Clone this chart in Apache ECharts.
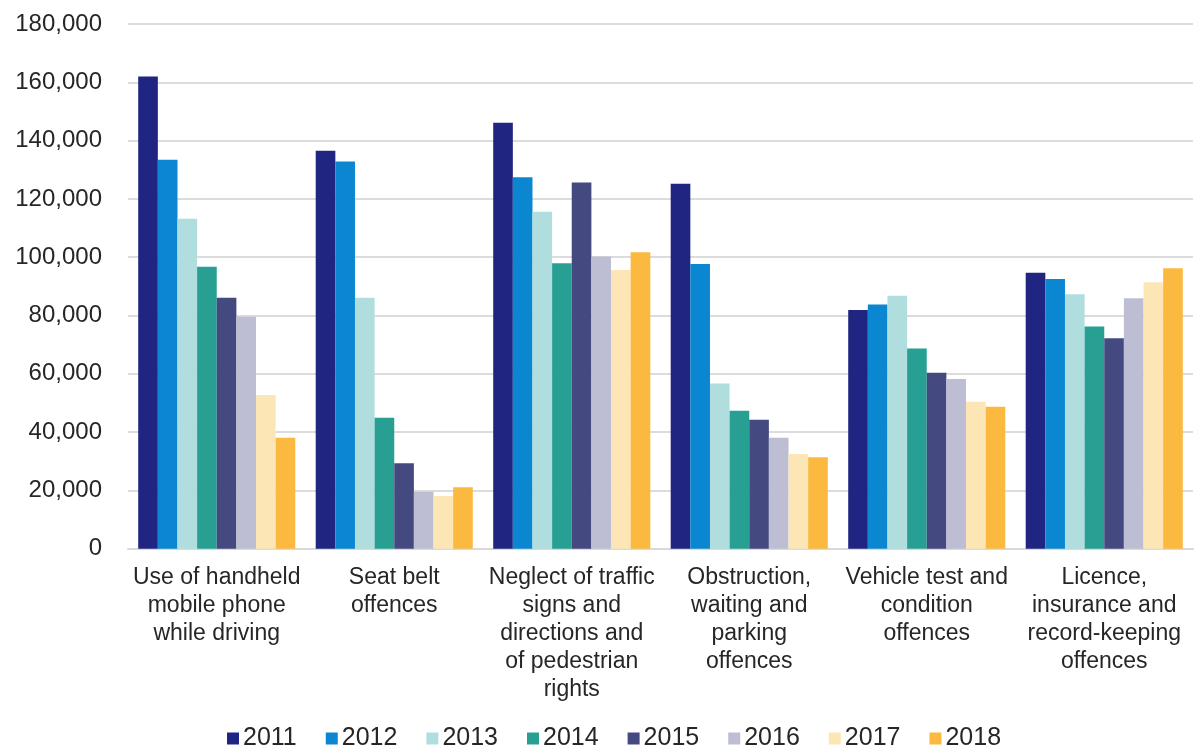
<!DOCTYPE html>
<html>
<head>
<meta charset="utf-8">
<script src="https://cdn.jsdelivr.net/npm/echarts@6/dist/echarts.min.js"></script>
<style>
html,body{margin:0;padding:0;background:#fff;}
#chart{width:1194px;height:752px;}
</style>
</head>
<body>
<div id="chart"></div>
<script>
const categories = [
  "Use of handheld\nmobile phone\nwhile driving",
  "Seat belt\noffences",
  "Neglect of traffic\nsigns and\ndirections and\nof pedestrian\nrights",
  "Obstruction,\nwaiting and\nparking\noffences",
  "Vehicle test and\ncondition\noffences",
  "Licence,\ninsurance and\nrecord-keeping\noffences"
];
const years = ["2011","2012","2013","2014","2015","2016","2017","2018"];
const v2011 = [162000, 136500, 146100, 125200, 81900, 94700];
const v2012 = [133400, 132800, 127400, 97700, 83800, 92500];
const v2013 = [113200, 86100, 115600, 56700, 86800, 87300];
const v2014 = [96700, 44900, 97900, 47300, 68700, 76200];
const v2015 = [86100, 29300, 125600, 44200, 60400, 72200];
const v2016 = [79600, 19500, 100200, 38100, 58200, 85900];
const v2017 = [52700, 18100, 95600, 32500, 50400, 91400];
const v2018 = [38100, 21100, 101700, 31400, 48700, 96200];
const seriesValues = [v2011, v2012, v2013, v2014, v2015, v2016, v2017, v2018];
const colors = ["#1f2580","#0a87d0","#b0dedf","#27a093","#444a80","#bdbed3","#fce6b5","#fbba3f"];

const font = "'Liberation Sans', Arial, sans-serif";
const chart = echarts.init(document.getElementById('chart'));
chart.setOption({
  animation: false,
  backgroundColor: '#ffffff',
  color: colors,
  textStyle: { fontFamily: font },
  grid: { left: 128, right: 1, top: 24, bottom: 203.3, containLabel: false },
  legend: {
    data: years,
    left: 222,
    top: 721,
    itemWidth: 12,
    itemHeight: 12,
    itemGap: 29,
    icon: 'rect',
    textStyle: { fontSize: 25, color: '#262626', fontFamily: font, padding: [0,0,0,-1] }
  },
  xAxis: {
    type: 'category',
    data: categories,
    axisLine: { show: true, lineStyle: { color: '#d9d9d9', width: 2 } },
    axisTick: { show: false },
    axisLabel: {
      interval: 0,
      fontSize: 23,
      lineHeight: 28,
      color: '#262626',
      margin: 15,
      fontFamily: font
    }
  },
  yAxis: {
    type: 'value',
    min: 0,
    max: 180000,
    interval: 20000,
    axisLine: { show: false },
    axisTick: { show: false },
    splitLine: { lineStyle: { color: '#dcdcdc', width: 2 } },
    axisLabel: {
      fontSize: 24,
      color: '#262626',
      margin: 26,
      fontFamily: font,
      formatter: function (v) { return v.toLocaleString('en-US'); }
    }
  },
  series: years.map(function (y, i) {
    return {
      name: y,
      type: 'bar',
      data: seriesValues[i],
      barGap: '0%',
      barCategoryGap: '11.5%'
    };
  })
});
</script>
</body>
</html>
